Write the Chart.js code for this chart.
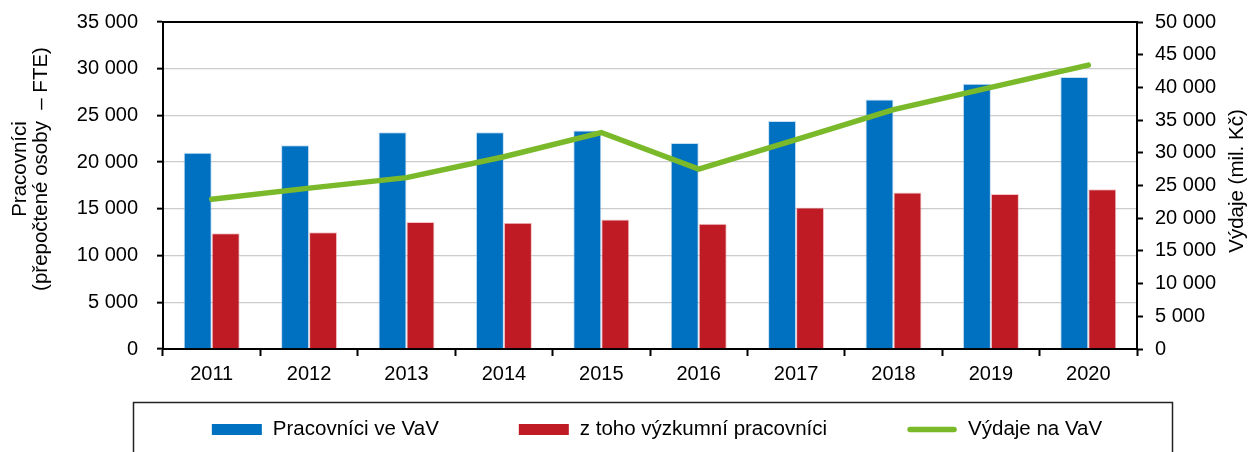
<!DOCTYPE html>
<html>
<head>
<meta charset="utf-8">
<script src="https://cdn.jsdelivr.net/npm/chart.js@4/dist/chart.umd.min.js"></script>
<style>
  html, body { margin: 0; padding: 0; background: #fff; }
  #wrap { width: 1255px; height: 452px; }
</style>
</head>
<body>
<div id="wrap"><canvas id="chartCombo"></canvas></div>
<script>
  var years = ["2011","2012","2013","2014","2015","2016","2017","2018","2019","2020"];
  var workers = [21000, 21800, 23200, 23200, 23400, 22050, 24400, 26700, 28400, 29100];
  var researchers = [12400, 12500, 13600, 13500, 13850, 13400, 15150, 16750, 16600, 17100];
  var expenditure = [22900, 24600, 26200, 29400, 33100, 27500, 32000, 36600, 40000, 43400];

  var leftTitle = ["Pracovníci", "(přepočtené osoby  – FTE)"];
  var rightTitle = "Výdaje (mil. Kč)";

  var FONT = "'Liberation Sans', Arial, sans-serif";

  function spaced(v) {
    return String(v).replace(/\B(?=(\d{3})+(?!\d))/g, " ");
  }

  function fixY(width) {
    return function(s) {
      s.width = width;
      s.paddingTop = 0;
      s.paddingBottom = 0;
    };
  }

  // titles, top frame line and framed legend
  var extras = {
    id: "extras",
    afterDraw: function(chart) {
      var ctx = chart.ctx, a = chart.chartArea;
      ctx.save();
      ctx.strokeStyle = "#000";
      ctx.lineWidth = 2;
      ctx.beginPath();
      ctx.moveTo(a.left - 1, a.top);
      ctx.lineTo(a.right + 1, a.top);
      ctx.stroke();

      ctx.fillStyle = "#000";
      ctx.font = "20.5px " + FONT;
      ctx.textAlign = "center";
      ctx.textBaseline = "middle";

      ctx.save();
      ctx.translate(20, 169);
      ctx.rotate(-Math.PI / 2);
      ctx.fillText(leftTitle[0], 0, 0);
      ctx.fillText(leftTitle[1], 0, 21);
      ctx.restore();

      ctx.save();
      ctx.translate(1237, 181);
      ctx.rotate(-Math.PI / 2);
      ctx.fillText(rightTitle, 0, 0);
      ctx.restore();

      // legend frame
      ctx.strokeStyle = "#222";
      ctx.lineWidth = 1.5;
      ctx.strokeRect(133.5, 402.5, 1039, 60);

      // legend items
      var ds = chart.data.datasets;
      var gap = 80, sw = 50, tg = 11;
      var widths = ds.map(function(d) { return sw + tg + ctx.measureText(d.label).width; });
      var total = widths.reduce(function(s, w) { return s + w; }, 0) + gap * (ds.length - 1);
      var x = 657 - total / 2, y = 429.5;
      ctx.textAlign = "left";
      ds.forEach(function(d, i) {
        if (d.type === "line") {
          ctx.strokeStyle = d.borderColor;
          ctx.lineWidth = 5.5;
          ctx.lineCap = "round";
          ctx.beginPath();
          ctx.moveTo(x + 3, y);
          ctx.lineTo(x + sw - 3, y);
          ctx.stroke();
        } else {
          ctx.fillStyle = d.backgroundColor;
          ctx.fillRect(x, y - 5.5, sw, 11);
        }
        ctx.fillStyle = "#000";
        ctx.fillText(d.label, x + sw + tg, y);
        x += widths[i] + gap;
      });
      ctx.restore();
    }
  };

  var ctx = document.getElementById("chartCombo").getContext("2d");

  var myChart = new Chart(ctx, {
    data: {
      labels: years,
      datasets: [{
        type: "bar",
        label: "Pracovníci ve VaV",
        data: workers,
        backgroundColor: "#0070C0",
        borderColor: "rgba(160,200,235,0.6)",
        borderWidth: 1,
        yAxisID: "y",
        order: 1
      }, {
        type: "bar",
        label: "z toho výzkumní pracovníci",
        data: researchers,
        backgroundColor: "#BE1B24",
        borderColor: "rgba(235,160,165,0.6)",
        borderWidth: 1,
        yAxisID: "y",
        order: 1
      }, {
        type: "line",
        label: "Výdaje na VaV",
        data: expenditure,
        borderColor: "#7AB929",
        backgroundColor: "#7AB929",
        borderWidth: 5.5,
        borderCapStyle: "round",
        borderJoinStyle: "miter",
        pointRadius: 0,
        tension: 0,
        fill: false,
        yAxisID: "y1",
        order: 0
      }]
    },
    options: {
      responsive: true,
      maintainAspectRatio: false,
      animation: false,
      layout: { padding: { top: 22, left: 0, right: 0, bottom: 0 } },
      datasets: {
        bar: { categoryPercentage: 0.575, barPercentage: 1 }
      },
      plugins: {
        legend: { display: false },
        tooltip: { enabled: false }
      },
      scales: {
        x: {
          afterFit: function(s) { s.height = 103; },
          grid: { offset: true, drawOnChartArea: false, tickColor: "#000", tickLength: 7, tickWidth: 2 },
          border: { color: "#000", width: 2 },
          ticks: { color: "#000", font: { family: FONT, size: 20 }, padding: 6 }
        },
        y: {
          position: "left",
          min: 0,
          max: 35000,
          afterFit: fixY(163),
          grid: { color: "#cccccc", lineWidth: 1.3, tickColor: "#000", tickLength: 6, tickWidth: 2 },
          border: { color: "#000", width: 2 },
          ticks: {
            stepSize: 5000,
            color: "#000",
            padding: 19,
            font: { family: FONT, size: 20 },
            callback: function(v) { return spaced(v); }
          }
        },
        y1: {
          position: "right",
          min: 0,
          max: 50000,
          afterFit: fixY(118),
          grid: { drawOnChartArea: false, tickColor: "#000", tickLength: 6, tickWidth: 2 },
          border: { color: "#000", width: 2 },
          ticks: {
            stepSize: 5000,
            color: "#000",
            padding: 12,
            font: { family: FONT, size: 20 },
            callback: function(v) { return spaced(v); }
          }
        }
      }
    },
    plugins: [extras]
  });
</script>
</body>
</html>
